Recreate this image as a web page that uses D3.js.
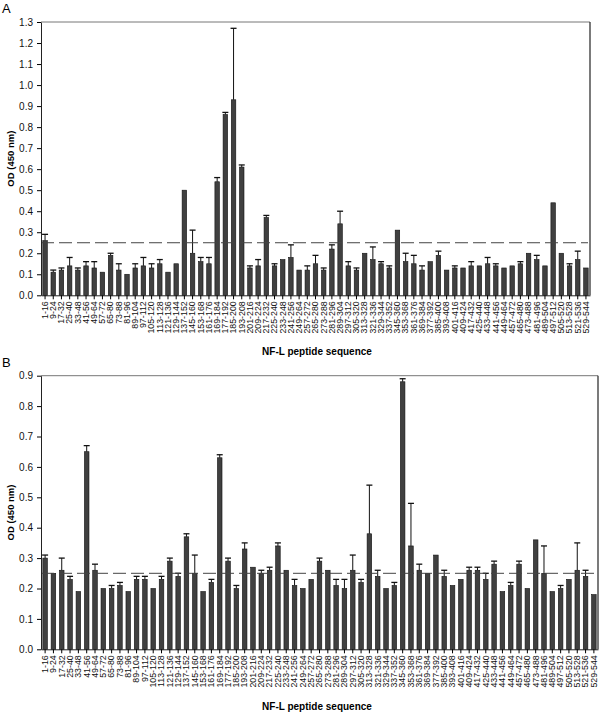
<!DOCTYPE html>
<html><head><meta charset="utf-8">
<script src="https://cdn.jsdelivr.net/npm/d3@7"></script>
<style>body{margin:0;background:#fff}svg{display:block}text{font-family:"Liberation Sans",Arial,sans-serif}</style>
</head><body>
<svg id="c" width="600" height="714"></svg>
<script>
const categories = ["1-16","9-24","17-32","25-40","33-48","41-56","49-64","57-72","65-80","73-88","81-96","89-104","97-112","105-120","113-128","121-136","129-144","137-152","145-160","153-168","161-176","169-184","177-192","185-200","193-208","201-216","209-224","217-232","225-240","233-248","241-256","249-264","257-272","265-280","273-288","281-296","289-304","297-312","305-320","313-328","321-336","329-344","337-352","345-360","353-368","361-376","369-384","377-392","385-400","393-408","401-416","409-424","417-432","425-440","433-448","441-456","449-464","457-472","465-480","473-488","481-496","489-504","497-512","505-520","513-528","521-536","529-544"];

// Panel A: mean OD and error bar top (null = no error bar)
const valuesA = [0.26,0.11,0.12,0.14,0.12,0.14,0.13,0.11,0.19,0.12,0.10,0.13,0.14,0.13,0.15,0.11,0.15,0.50,0.20,0.16,0.15,0.54,0.86,0.93,0.61,0.13,0.14,0.37,0.14,0.17,0.18,
  0.12,0.12,0.15,0.12,0.22,0.34,0.14,0.12,0.20,0.17,0.15,0.13,0.31,0.16,0.15,0.12,0.16,0.19,0.12,0.13,0.13,0.14,0.14,0.15,0.14,0.13,0.14,0.15,0.20,0.17,0.14,0.44,0.20,0.14,0.17,0.13];
const errTopA = [0.29,0.12,0.13,0.18,0.13,0.16,0.16,null,0.20,0.15,null,0.15,0.18,0.15,0.17,null,null,null,0.31,0.18,0.18,0.56,0.87,1.27,0.62,0.14,0.17,0.38,0.15,null,0.24,
  null,0.14,0.19,0.13,0.24,0.40,0.16,0.13,null,0.23,0.16,0.14,null,0.20,0.19,0.14,null,0.21,null,0.14,null,0.16,null,0.18,0.15,null,null,0.16,null,0.19,null,null,null,0.15,0.21,null];

// Panel B
const valuesB = [0.30,0.25,0.26,0.23,0.19,0.65,0.26,0.20,0.20,0.21,0.19,0.23,0.23,0.20,0.23,0.29,0.24,0.37,0.25,0.19,0.22,0.63,0.29,0.20,0.33,0.27,0.25,0.26,0.34,0.26,0.21,
  0.20,0.23,0.29,0.26,0.21,0.20,0.26,0.22,0.38,0.24,0.20,0.21,0.88,0.34,0.26,0.25,0.31,0.24,0.21,0.23,0.26,0.26,0.23,0.28,0.19,0.21,0.28,0.20,0.36,0.25,0.19,0.20,0.23,0.26,0.24,0.18];
const errTopB = [0.31,null,0.30,0.24,null,0.67,0.28,null,0.21,0.22,null,0.24,0.24,null,0.24,0.30,0.25,0.38,0.31,null,0.23,0.64,0.30,0.21,0.35,null,0.26,0.27,0.35,null,0.23,
  null,null,0.30,null,0.23,0.23,0.31,0.23,0.54,0.26,null,0.22,0.89,0.48,0.28,null,null,0.26,null,null,0.27,0.27,0.25,0.29,null,0.22,0.29,null,null,0.34,null,0.21,null,0.35,0.26,null];

const cutoff = 0.25;
const ticksA = d3.range(0, 1.31, 0.1);
const ticksB = d3.range(0, 0.91, 0.1);

const svg = d3.select("#c");

function panel(cfg){
  const g = svg.append("g");
  const x = d3.scaleBand().domain(categories).range([cfg.left, cfg.right]).paddingInner(0.45).paddingOuter(0.22);
  const y = d3.scaleLinear().domain([0, cfg.max]).range([cfg.bottom, cfg.top]);

  // frame top & right
  g.append("line").attr("x1", cfg.left).attr("x2", cfg.right).attr("y1", cfg.top).attr("y2", cfg.top).attr("stroke", "#777").attr("stroke-width", 1);
  g.append("line").attr("x1", cfg.right).attr("x2", cfg.right).attr("y1", cfg.top).attr("y2", cfg.bottom).attr("stroke", "#222").attr("stroke-width", 1.2);

  // error bars
  const eb = g.append("g").attr("stroke", "#111").attr("stroke-width", 1);
  cfg.values.forEach((v, i) => {
    const e = cfg.err[i];
    if (e == null) return;
    const cx = x(categories[i]) + x.bandwidth()/2;
    eb.append("line").attr("x1", cx).attr("x2", cx).attr("y1", y(v)).attr("y2", y(e));
    eb.append("line").attr("x1", cx-3).attr("x2", cx+3).attr("y1", y(e)).attr("y2", y(e)).attr("stroke-width", 1.3);
  });

  // bars
  g.append("g").selectAll("rect").data(cfg.values).join("rect")
    .attr("x", (d,i) => x(categories[i]))
    .attr("width", x.bandwidth())
    .attr("y", d => y(d))
    .attr("height", d => y(0) - y(d))
    .attr("fill", "#404040").attr("stroke", "#111").attr("stroke-width", 0.6);

  // cutoff dashed line
  g.append("line").attr("x1", cfg.left).attr("x2", cfg.right - 2)
    .attr("y1", y(cutoff)).attr("y2", y(cutoff))
    .attr("stroke", "#444").attr("stroke-width", 1).attr("stroke-dasharray", "13,5");

  // y axis
  const ya = g.append("g").attr("transform", `translate(${cfg.left},0)`)
    .call(d3.axisLeft(y).tickValues(cfg.ticks).tickFormat(d3.format(".1f")).tickSize(4).tickSizeOuter(0));
  ya.select(".domain").attr("stroke", "#222");
  ya.selectAll("text").attr("font-size", 10).attr("fill", "#111").attr("dx", -1);

  // x axis
  const xa = g.append("g").attr("transform", `translate(0,${cfg.bottom})`)
    .call(d3.axisBottom(x).tickSize(4).tickSizeOuter(0));
  xa.select(".domain").attr("stroke", "#222");
  xa.selectAll("text").attr("font-size", 8.8).attr("fill", "#111")
    .attr("transform", "rotate(-90)").attr("text-anchor", "end")
    .attr("x", -6).attr("y", 0).attr("dy", "0.32em");

  // titles
  g.append("text").attr("x", 2).attr("y", cfg.top - 9).attr("font-size", 13).text(cfg.label);
  g.append("text").attr("transform", `translate(14,${(cfg.top+cfg.bottom)/2}) rotate(-90)`)
    .attr("text-anchor", "middle").attr("font-size", 9.5).attr("font-weight", "bold").text("OD (450 nm)");
  g.append("text").attr("x", 317).attr("y", cfg.titleY).attr("text-anchor", "middle")
    .attr("font-size", 10).attr("font-weight", "bold").text("NF-L peptide sequence");
}

panel({label:"A", values: valuesA, err: errTopA, max: 1.3, ticks: ticksA, left: 41, right: 590, top: 22, bottom: 295.3, titleY: 355});
panel({label:"B", values: valuesB, err: errTopB, max: 0.9, ticks: ticksB, left: 41, right: 598, top: 375.7, bottom: 649.3, titleY: 710});
</script>
</body></html>
